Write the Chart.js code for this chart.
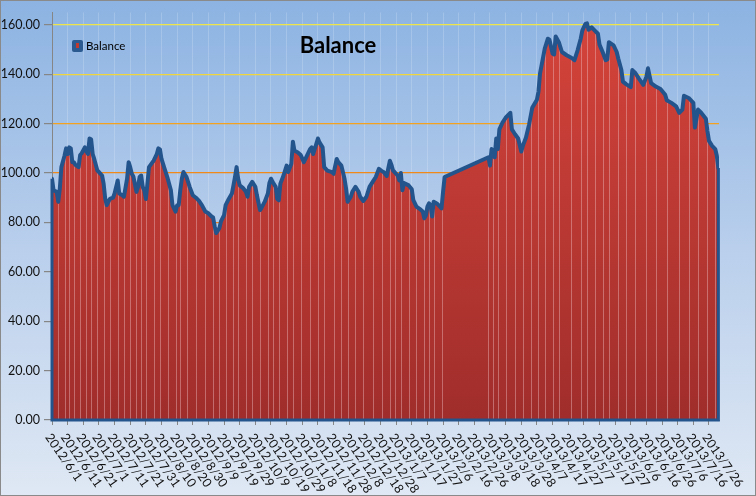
<!DOCTYPE html>
<html>
<head>
<meta charset="utf-8">
<title>Balance</title>
<script src="https://cdn.jsdelivr.net/npm/chart.js@4/dist/chart.umd.min.js"></script>
<style>
  html, body { margin: 0; padding: 0; background: #fff; }
  #wrap {
    position: relative; width: 756px; height: 496px; box-sizing: border-box;
    border: 1px solid #8a8a8a; overflow: hidden;
    background: linear-gradient(#8cb3e2, #b9cfec 50%, #dfe8f4);
    font-family: Lato, "Open Sans", sans-serif;
  }
  #wrap canvas { display: block; }
  #title {
    position: absolute; left: 337px; top: 30px; transform: translateX(-50%);
    font-weight: bold; font-size: 22px; color: #000;
  }
  #legend {
    position: absolute; left: 71px; top: 38px; font-size: 11.5px; color: #000;
    display: flex; align-items: center;
  }
  #legend .swatch {
    width: 11px; height: 12px; border-radius: 2px; background: #2a5a8f;
    display: flex; align-items: center; justify-content: center; margin-right: 3px;
  }
  #legend .swatch i { display: block; width: 3px; height: 5px; background: #c0392f; }
</style>
</head>
<body>
<div id="wrap">
  <canvas id="balanceChart" width="754" height="494"></canvas>
  <div id="title">Balance</div>
  <div id="legend"><span class="swatch"><i></i></span>Balance</div>
</div>
<script>
// days since 2012/6/1
const days = [
  0, 1, 3, 4, 5, 6, 8, 9, 10, 11, 12, 13, 14, 15, 17, 18, 19, 21, 22, 23, 24, 25, 26, 27, 29, 30,
  32, 33, 34, 35, 37, 39, 40, 42, 43, 45, 46, 48, 49, 50, 51, 52, 54, 55, 56, 57, 58, 59, 60, 61,
  62, 65, 67, 68, 69, 70, 72, 74, 76, 77, 79, 80, 81, 82, 83, 84, 86, 88, 90, 92, 94, 96, 98, 100,
  102, 103, 104, 105, 107, 108, 110, 111, 113, 115, 116, 117, 118, 119, 120, 122, 124, 125, 126,
  128, 130, 131, 133, 134, 136, 138, 139, 140, 141, 143, 144, 145, 146, 148, 150, 151, 153, 154,
  155, 157, 159, 161, 163, 165, 166, 167, 170, 171, 173, 174, 176, 179, 180, 182, 183, 185, 187,
  188, 189, 191, 192, 194, 196, 197, 199, 201, 203, 205, 207, 209, 211, 212, 214, 216, 217, 218,
  219, 221, 222, 223, 224, 225, 228, 230, 231, 233, 235, 237, 238, 239, 240, 241, 242, 243, 244,
  246, 248, 249, 250, 251, 279, 280, 281, 282, 283, 284, 285, 286, 288, 290, 293, 294, 296, 298,
  300, 301, 303, 305, 306, 307, 310, 311, 312, 314, 315, 317, 318, 320, 321, 322, 324, 326, 329,
  332, 334, 336, 338, 339, 341, 342, 343, 345, 347, 349, 350, 352, 354, 355, 356, 359, 361, 362,
  364, 365, 367, 370, 371, 373, 375, 378, 380, 381, 383, 386, 389, 392, 393, 396, 399, 401, 403,
  404, 407, 410, 411, 413, 415, 418, 419, 420, 422, 424, 425, 426
];
const balance = [
  97.7, 93, 92.4, 88.4, 93.7, 102.4, 107, 110, 107.7, 110.4, 110, 104.4, 104.4, 103.3, 102.4, 107.3, 108, 110.4, 108.7, 107.7, 114, 113.7, 107.7, 105.7, 101, 100.4,
  99, 95.7, 89.7, 87, 89.5, 90, 91.7, 97, 91.7, 91, 90.4, 97.7, 104.4, 102.4, 99.7, 98.6, 92.4, 94.4, 98.4, 99, 94.4, 93, 89.5, 95.7,
  102.4, 105, 107.7, 110, 109.6, 105.7, 101.7, 97.7, 93, 87, 84.4, 87, 87, 93, 97.7, 100.4, 98.4, 94.4, 91, 90, 88.7, 86.8, 84.4, 83.7,
  82.4, 82, 78.4, 75.7, 77.7, 80.4, 83, 87, 89.5, 91.7, 95, 98.4, 102.4, 97.7, 95, 94, 92.4, 90.4, 94.4,
  96.4, 94.4, 91, 85, 86, 88.4, 91.7, 96, 97.7, 96.4, 94.4, 89.5, 89, 95.7, 99, 103, 100.4, 103.7, 112.7,
  109, 108.4, 107.3, 104.4, 107, 109.7, 110.4, 107.7, 114, 112.4, 110.4, 102.4, 101, 100.4, 99.7, 105.7, 104.4, 103, 97.7,
  93.7, 88.4, 90.4, 92.4, 94.4, 92.4, 90.4, 88.7, 90.4, 94.4, 96.4, 98.4, 101.7, 100.7, 100.4, 98.8, 105, 103.3, 101,
  100.4, 99, 97, 100, 93, 96, 95, 93.4, 89, 86.4, 85.5, 84.4, 81.7, 82.8, 86.4, 87.7, 87, 82.4, 88.4,
  87.7, 86.4, 85.7, 92.4, 98.4, 106.4, 103, 109.7, 109, 106.4, 114, 109.7, 117.7, 120.4, 122.4, 124.4, 117.7, 115.7, 114,
  108.7, 111, 114.4, 119.7, 123, 126.4, 129.7, 133, 140.4, 147, 150.4, 154.4, 154, 148.4, 148, 155.3, 153, 149, 147.7,
  146.7, 145.7, 149.7, 154.4, 157.7, 160.4, 160.6, 158, 159, 157.7, 156.4, 152, 149, 145.7, 146, 153, 151.7, 149, 146.4,
  141.7, 137, 136, 134.8, 141.7, 140.4, 138.4, 135.7, 139, 142.4, 136.4, 135, 134, 131.7, 129.5, 128.4, 127, 124.4, 125.7,
  131.3, 130.4, 128.4, 118.4, 125.7, 124.4, 122, 117, 113, 111, 109.7, 107, 102
];
const tickLabels = [
  '2012/6/1', '2012/6/11', '2012/6/21', '2012/7/1', '2012/7/11', '2012/7/21', '2012/7/31',
  '2012/8/10', '2012/8/20', '2012/8/30', '2012/9/9', '2012/9/19', '2012/9/29', '2012/10/9',
  '2012/10/19', '2012/10/29', '2012/11/8', '2012/11/18', '2012/11/28', '2012/12/8', '2012/12/18',
  '2012/12/28', '2013/1/7', '2013/1/17', '2013/1/27', '2013/2/6', '2013/2/16', '2013/2/26',
  '2013/3/8', '2013/3/18', '2013/3/28', '2013/4/7', '2013/4/17', '2013/4/27', '2013/5/7',
  '2013/5/17', '2013/5/27', '2013/6/6', '2013/6/16', '2013/6/26', '2013/7/6', '2013/7/16', '2013/7/26'
];
const tickStep = 10;
const yTicks = [0, 20, 40, 60, 80, 100, 120, 140, 160];

const LINE_BLUE = '#24548c';
const gridColors = { 160: '#efe54a', 140: '#f1d53c', 120: '#f2a21e', 100: '#f0891a', 80: '#ec8020', 60: '#e87c24', 40: '#e47828', 20: '#e0742a' };

// thin light lines inside the red area, like the original export
const dropLines = {
  id: 'dropLines',
  beforeDatasetDraw(chart) {
    const pts = chart.getDatasetMeta(0).data, ctx = chart.ctx, bottom = chart.chartArea.bottom;
    ctx.save();
    ctx.strokeStyle = 'rgba(236,184,188,0.45)';
    ctx.lineWidth = 1;
    pts.forEach((p, i) => {
      if (i % 3) return;
      const x = Math.round(p.x) + 0.5;
      ctx.beginPath(); ctx.moveTo(x, p.y + 2); ctx.lineTo(x, bottom); ctx.stroke();
    });
    ctx.restore();
  },
  afterDatasetDraw(chart) {
    const pts = chart.getDatasetMeta(0).data, ctx = chart.ctx, bottom = chart.chartArea.bottom;
    const first = pts[0], last = pts[pts.length - 1];
    ctx.save();
    ctx.strokeStyle = LINE_BLUE;
    ctx.lineWidth = 3;
    ctx.beginPath();
    ctx.moveTo(first.x, first.y); ctx.lineTo(first.x, bottom);
    ctx.lineTo(last.x, bottom); ctx.lineTo(last.x, last.y);
    ctx.stroke();
    ctx.restore();
  }
};

// rotated date labels hanging down to the right of each tick
const dateLabels = {
  id: 'dateLabels',
  afterDraw(chart) {
    const sc = chart.scales.x, ctx = chart.ctx;
    ctx.save();
    ctx.font = '12.5px Lato';
    ctx.fillStyle = '#111';
    ctx.textAlign = 'left';
    ctx.textBaseline = 'middle';
    sc.ticks.forEach((t, i) => {
      const x = sc.getPixelForValue(t.value);
      ctx.save();
      ctx.translate(x - 4, sc.top + 15);
      ctx.rotate(55 * Math.PI / 180);
      ctx.fillText(tickLabels[i], 0, 0);
      ctx.restore();
    });
    ctx.restore();
  }
};

new Chart(document.getElementById('balanceChart'), {
  type: 'line',
  data: {
    datasets: [{
      label: 'Balance',
      data: days.map((d, i) => ({ x: d, y: balance[i] })),
      borderColor: LINE_BLUE,
      borderWidth: 4,
      borderJoinStyle: 'round',
      borderCapStyle: 'round',
      tension: 0,
      pointRadius: 0,
      fill: 'origin',
      backgroundColor: (c) => {
        const a = c.chart.chartArea;
        if (!a) return '#c03a34';
        const g = c.chart.ctx.createLinearGradient(0, a.top, 0, a.bottom);
        g.addColorStop(0, '#d5443b');
        g.addColorStop(1, '#a02d2b');
        return g;
      }
    }]
  },
  options: {
    responsive: false,
    animation: false,
    devicePixelRatio: 1,
    layout: { padding: { top: 7, right: 36, left: 0, bottom: 0 } },
    plugins: { legend: { display: false }, title: { display: false }, tooltip: { enabled: false } },
    scales: {
      x: {
        type: 'linear', min: 0, max: 426.4,
        grid: { color: 'rgba(255,255,255,0.18)', tickColor: '#868686', tickLength: 5 },
        border: { color: '#868686' },
        ticks: { display: false, stepSize: tickStep, callback: (v) => tickLabels[v / tickStep] },
        afterBuildTicks: (s) => { s.ticks = tickLabels.map((_, i) => ({ value: i * tickStep })); },
        afterFit: (s) => { s.height = 75; }
      },
      y: {
        min: 0, max: 165,
        grid: { color: (c) => gridColors[c.tick.value] || 'rgba(0,0,0,0)', tickColor: '#868686', tickLength: 8, lineWidth: 1.2 },
        border: { color: '#868686' },
        ticks: {
          padding: 4, color: '#111',
          font: { family: 'Lato', size: 12.5 },
          callback: (v) => v.toFixed(2)
        },
        afterBuildTicks: (s) => { s.ticks = yTicks.map(v => ({ value: v })); },
        afterFit: (s) => { s.width = 51; }
      }
    }
  },
  plugins: [dropLines, dateLabels]
});
</script>
</body>
</html>
